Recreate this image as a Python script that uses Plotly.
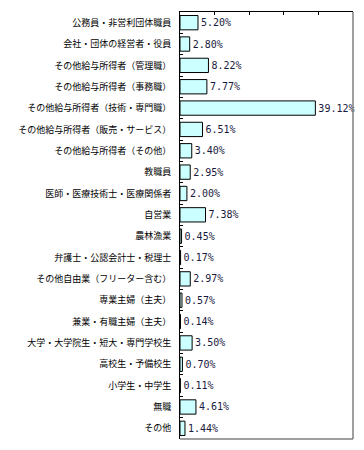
import plotly.graph_objects as go

categories = [
    "公務員・非営利団体職員",
    "会社・団体の経営者・役員",
    "その他給与所得者（管理職）",
    "その他給与所得者（事務職）",
    "その他給与所得者（技術・専門職）",
    "その他給与所得者（販売・サービス）",
    "その他給与所得者（その他）",
    "教職員",
    "医師・医療技術士・医療関係者",
    "自営業",
    "農林漁業",
    "弁護士・公認会計士・税理士",
    "その他自由業（フリーター含む）",
    "専業主婦（主夫）",
    "兼業・有職主婦（主夫）",
    "大学・大学院生・短大・専門学校生",
    "高校生・予備校生",
    "小学生・中学生",
    "無職",
    "その他",
]
values = [5.20, 2.80, 8.22, 7.77, 39.12, 6.51, 3.40, 2.95, 2.00, 7.38,
          0.45, 0.17, 2.97, 0.57, 0.14, 3.50, 0.70, 0.11, 4.61, 1.44]

font_family = "Noto Sans CJK JP"

fig = go.Figure(go.Bar(
    x=values,
    y=categories,
    orientation="h",
    marker=dict(color="#CCFFFF", line=dict(color="#000000", width=1)),
    texttemplate="%{x:.2f}%",
    textposition="outside",
    textfont=dict(family="DejaVu Sans Mono", size=10, color="#1a1a40"),
    cliponaxis=False,
    hoverinfo="skip",
))

fig.update_layout(
    width=364, height=450,
    margin=dict(l=180, r=11, t=12, b=11),
    paper_bgcolor="white", plot_bgcolor="white",
    bargap=0.33,
    showlegend=False,
    font=dict(family=font_family, size=9, color="#000000"),
    xaxis=dict(
        side="top", range=[0, 50], dtick=10, tick0=0,
        showgrid=False, zeroline=False, automargin=False,
        showline=True, linecolor="#000000", linewidth=1,
        ticks="inside", ticklen=3, tickcolor="#000000",
        showticklabels=False, fixedrange=True,
    ),
    yaxis=dict(
        autorange="reversed", automargin=False,
        showgrid=False, zeroline=False,
        showline=True, linecolor="#000000", linewidth=1,
        ticks="inside", ticklen=3, tickcolor="#000000",
        tickson="boundaries",
        ticklabelstandoff=6,
        tickfont=dict(family=font_family, size=9, color="#000000"),
        fixedrange=True,
    ),
    shapes=[
        dict(type="line", xref="paper", yref="paper", x0=1, x1=1, y0=0, y1=1,
             line=dict(color="#808080", width=1.5), layer="above"),
        dict(type="line", xref="paper", yref="paper", x0=0, x1=1, y0=0, y1=0,
             line=dict(color="#808080", width=1.5), layer="above"),
    ],
)

fig.write_html(
    "out.html",
    config={"displayModeBar": False},
    post_script="document.body.style.margin='0';document.body.style.overflow='hidden';",
)
